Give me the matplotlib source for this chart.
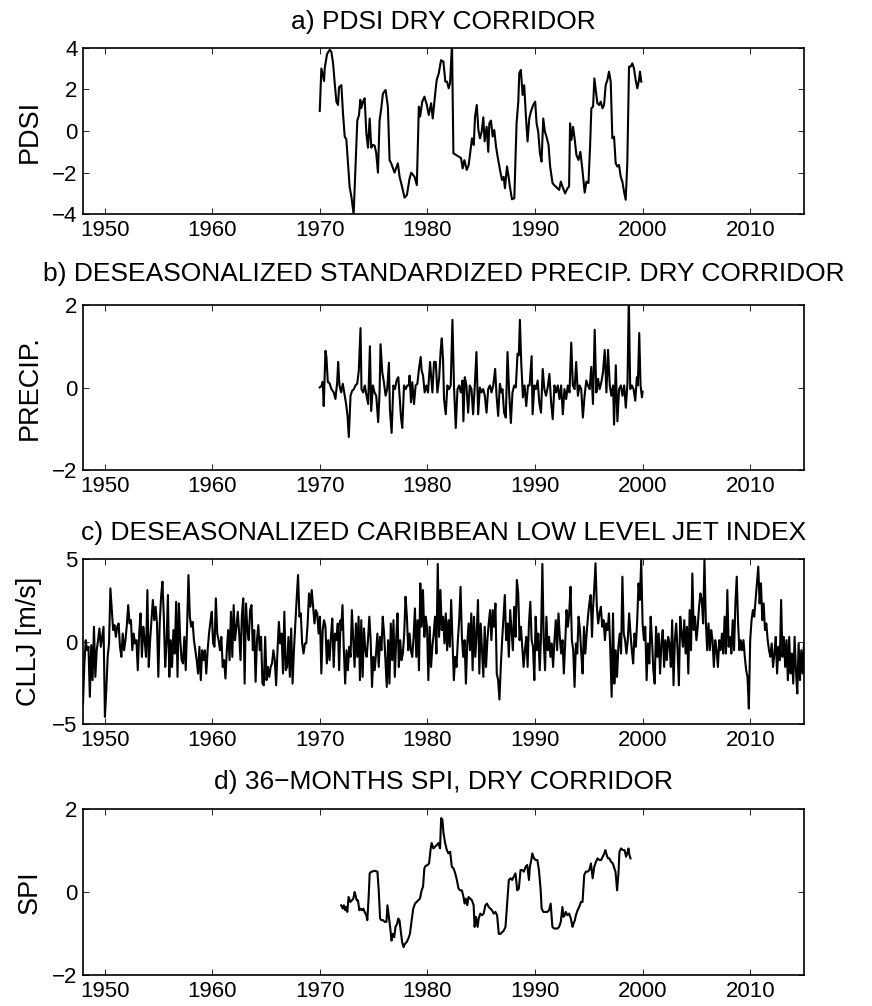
import numpy as np
import matplotlib
matplotlib.use("Agg")
import matplotlib.pyplot as plt

plt.rcParams['font.family'] = ['Liberation Sans', 'DejaVu Sans']

# a) PDSI, dry corridor
pdsi_year = [1970.00, 1970.15, 1970.40, 1970.46, 1970.68, 1970.93, 1971.08, 1971.24, 1971.39, 1971.55,
             1971.70, 1971.79, 1972.01, 1972.16, 1972.32, 1972.47, 1972.63, 1972.78, 1972.94, 1973.15,
             1973.34, 1973.49, 1973.65, 1973.77, 1973.86, 1974.02, 1974.17, 1974.33, 1974.48, 1974.64,
             1974.79, 1974.94, 1975.10, 1975.25, 1975.41, 1975.56, 1975.72, 1975.87, 1976.12, 1976.33,
             1976.49, 1976.64, 1976.95, 1977.26, 1977.42, 1977.66, 1977.88, 1978.10, 1978.34, 1978.50,
             1978.81, 1979.02, 1979.21, 1979.33, 1979.52, 1979.73, 1979.95, 1980.13, 1980.35, 1980.50,
             1980.75, 1980.87, 1981.06, 1981.27, 1981.49, 1981.67, 1981.83, 1981.98, 1982.11, 1982.29,
             1982.42, 1982.67, 1982.91, 1983.13, 1983.28, 1983.44, 1983.66, 1983.84, 1984.06, 1984.15,
             1984.31, 1984.43, 1984.59, 1984.74, 1984.89, 1985.05, 1985.20, 1985.32, 1985.51, 1985.66,
             1985.76, 1985.91, 1986.07, 1986.22, 1986.38, 1986.53, 1986.75, 1986.93, 1987.09, 1987.21,
             1987.40, 1987.55, 1987.67, 1987.86, 1988.08, 1988.29, 1988.45, 1988.54, 1988.69, 1988.85,
             1989.00, 1989.16, 1989.31, 1989.47, 1989.62, 1989.84, 1990.02, 1990.15, 1990.30, 1990.46,
             1990.61, 1990.77, 1990.92, 1991.07, 1991.26, 1991.41, 1991.63, 1991.79, 1991.94, 1992.09,
             1992.25, 1992.40, 1992.56, 1992.80, 1993.02, 1993.17, 1993.26, 1993.39, 1993.54, 1993.70,
             1993.85, 1994.04, 1994.22, 1994.41, 1994.62, 1994.78, 1994.97, 1995.12, 1995.24, 1995.40,
             1995.52, 1995.65, 1995.80, 1995.96, 1996.11, 1996.27, 1996.42, 1996.57, 1996.73, 1996.88,
             1997.04, 1997.19, 1997.35, 1997.50, 1997.66, 1997.81, 1997.97, 1998.12, 1998.27, 1998.43,
             1998.58, 1998.74, 1998.89, 1999.05, 1999.20, 1999.36, 1999.51, 1999.67, 1999.76, 1999.88]
pdsi_val = [0.96, 3.0, 2.4, 3.0, 3.7, 3.9, 3.8, 3.25, 2.3, 1.4,
            1.25, 2.1, 2.2, 0.85, -0.27, -0.4, -1.55, -2.7, -3.15, -4.0,
            -1.55, 0.5, 0.77, 1.5, 1.1, 1.4, 1.57, -0.1, -0.8, 0.6,
            -0.8, -0.67, -0.7, -1.07, -2.0, 0.5, 1.1, 1.8, 1.97, 1.17,
            -1.4, -1.55, -2.0, -1.55, -2.2, -2.7, -3.2, -3.07, -2.3, -2.0,
            -2.2, -2.6, 1.17, 0.7, 1.4, 1.65, 1.25, 0.77, 1.33, 0.6,
            1.9, 2.45, 2.77, 3.4, 3.33, 2.37, 2.37, 2.05, 2.3, 4.2,
            -1.07, -1.15, -1.23, -1.3, -1.8, -1.4, -1.87, -1.63, -0.75, -0.35,
            -0.67, 0.69, 1.25, 0.05, -0.35, -0.03, 0.66, -0.5, 0.2, -1.0,
            0.37, 0.5, -0.27, 0.05, -0.75, -1.23, -1.87, -2.35, -2.2, -2.75,
            -1.7, -2.2, -2.67, -3.28, -3.23, 0.37, 1.4, 2.77, 2.93, 1.73,
            2.2, 0.69, -0.5, 0.6, 0.93, 1.25, 1.41, 0.37, -0.03, -1.07,
            -1.47, 0.6, -0.03, -0.27, -0.67, -1.71, -2.5, -2.6, -2.67, -2.75,
            -2.83, -2.43, -2.67, -3.0, -2.75, -2.67, 0.37, -0.43, 0.2, -0.43,
            -1.15, -1.39, -1.0, -1.87, -2.96, -2.43, -2.5, -0.75, 1.09, 1.17,
            2.53, 1.97, 1.33, 1.25, 1.41, 1.09, 1.25, 2.2, 2.45, 2.85,
            2.37, -0.35, -0.27, -1.55, -1.71, -1.63, -2.2, -2.43, -2.9, -3.3,
            -1.55, 3.09, 3.09, 3.25, 3.0, 2.45, 2.05, 2.45, 2.85, 2.37]

# b) deseasonalized standardized precipitation
precip_year = [1970.00, 1970.16, 1970.28, 1970.37, 1970.53, 1970.62, 1970.75, 1970.90, 1971.09, 1971.30,
               1971.46, 1971.62, 1971.71, 1971.83, 1971.99, 1972.14, 1972.30, 1972.45, 1972.58, 1972.70,
               1972.86, 1973.01, 1973.17, 1973.32, 1973.48, 1973.63, 1973.79, 1973.88, 1974.04, 1974.19,
               1974.35, 1974.50, 1974.66, 1974.78, 1974.94, 1975.09, 1975.25, 1975.43, 1975.56, 1975.65,
               1975.81, 1975.96, 1976.12, 1976.27, 1976.43, 1976.52, 1976.68, 1976.84, 1976.99, 1977.14,
               1977.30, 1977.42, 1977.55, 1977.67, 1977.83, 1977.98, 1978.14, 1978.29, 1978.35, 1978.48,
               1978.60, 1978.76, 1978.91, 1979.07, 1979.22, 1979.38, 1979.47, 1979.60, 1979.75, 1979.91,
               1980.06, 1980.25, 1980.37, 1980.47, 1980.62, 1980.78, 1980.93, 1981.09, 1981.24, 1981.34,
               1981.46, 1981.55, 1981.71, 1981.86, 1982.02, 1982.17, 1982.33, 1982.48, 1982.64, 1982.80,
               1982.95, 1983.11, 1983.26, 1983.35, 1983.48, 1983.63, 1983.79, 1983.94, 1984.10, 1984.25,
               1984.41, 1984.56, 1984.72, 1984.88, 1985.03, 1985.19, 1985.34, 1985.50, 1985.65, 1985.81,
               1985.96, 1986.12, 1986.30, 1986.43, 1986.58, 1986.74, 1986.89,
               1986.98, 1987.13, 1987.29, 1987.45, 1987.60, 1987.76, 1987.91, 1988.07, 1988.22, 1988.38,
               1988.50, 1988.60, 1988.72, 1988.88, 1989.03, 1989.19, 1989.35, 1989.50, 1989.69, 1989.78,
               1989.94, 1990.09, 1990.25, 1990.40, 1990.56, 1990.72, 1990.87, 1991.03, 1991.18, 1991.34,
               1991.50, 1991.65, 1991.81, 1991.96, 1992.12, 1992.28, 1992.43, 1992.59, 1992.74, 1992.90,
               1993.05, 1993.21, 1993.37, 1993.52, 1993.68, 1993.83, 1993.99, 1994.14, 1994.30, 1994.45,
               1994.61, 1994.77, 1994.92, 1995.08, 1995.23, 1995.39, 1995.55, 1995.70, 1995.86, 1996.01,
               1996.17, 1996.32, 1996.48, 1996.64, 1996.79, 1996.95, 1997.10, 1997.26, 1997.35, 1997.51,
               1997.66, 1997.82, 1997.98, 1998.13, 1998.29, 1998.44, 1998.60, 1998.72, 1998.85, 1999.00,
               1999.16, 1999.32, 1999.47, 1999.56, 1999.69, 1999.81, 1999.94, 2000.00]
precip_val = [0.0, 0.04, 0.14, -0.45, 0.89, 0.74, 0.13, 0.11, -0.04, -0.12,
              -0.28, 0.13, 0.62, 0.05, -0.12, 0.09, -0.16, -0.4, -0.69, -1.2,
              -0.2, -0.08, -0.04, 0.05, 0.09, 0.41, 1.44, -0.04, -0.12, 0.05,
              -0.2, -0.4, 1.0, -0.57, 0.05, -0.12, -0.2, -0.84, -0.12, 1.05,
              0.37, 0.13, -0.2, -0.04, 0.6, -0.53, -1.1, 0.05, -0.04, 0.17,
              0.25, -0.2, -0.73, -0.98, 0.05, -0.04, 0.05, 0.05, 0.29, -0.36,
              0.13, -0.4, 0.05, 0.09, 0.45, 0.74, 0.41, 0.29, -0.12, 0.05,
              -0.12, 0.62, 0.21, -0.12, 0.62, 0.62, -0.12, 0.21, 0.91, 1.19,
              0.66, -0.28, -0.65, 0.05, -0.04, 0.05, 1.64, 0.0, -0.98, -0.04,
              0.05, -0.12, 0.17, -0.82, 0.25, 0.05, -0.61, 0.05, -0.04, -0.65,
              0.05, 0.86, -0.65, 0.0, -0.12, -0.04, -0.2, -0.61, -0.04, 0.05,
              -0.12, 0.05, 0.45, -0.2, -0.69, 0.09, -0.12,
              -0.04, -0.61, -0.73, 0.86, -0.12, -0.86, -0.12, 0.05, 0.0, 0.82,
              0.78, 1.64, 0.62, -0.24, 0.05, -0.45, 0.05, 0.05, 0.76, -0.65,
              0.05, -0.04, 0.17, -0.36, -0.61, 0.45, -0.04, -0.2, 0.0, 0.33,
              -0.36, -0.77, 0.05, -0.12, 0.05, -0.28, 0.05, -0.65, -0.04, -0.28,
              0.05, -0.12, 1.09, 0.05, -0.04, 0.62, -0.2, 0.05, -0.04, -0.73,
              -0.2, 0.17, 0.05, -0.04, 0.5, -0.4, 1.4, -0.12, 0.21, -0.04,
              0.13, 0.37, 0.91, -0.12, 0.91, 0.05, -0.2, 0.05, -0.9, 0.54,
              -0.82, -0.04, 0.05, -0.2, 0.05, -0.49, 0.13, 2.2, -0.04, 0.05,
              -0.04, -0.32, 0.25, 0.05, 1.32, 0.05, -0.24, -0.1]

# c) deseasonalized CLLJ index, read in three stretches (start, end year)
cllj_spans = [(1948.0, 1971.93), (1971.99, 1995.30), (1995.375, 2015.0)]
cllj_a = [-3.75, -1.32, 0.09, -0.52, -0.31, -3.34, -0.21, -2.33, 0.9, -2.13,
          -0.52, 0.09, 0.8, -0.31, 0.29, 0.9, -4.55, -2.94, -0.92, -0.11,
          3.22, 1.91, 0.7, 1.0, 0.29, 0.9, 1.1, -0.31, -0.92, 0.49,
          -0.52, 0.09, 1.0, 2.21, 1.1, 1.3, -0.52, 0.49, -0.11, 0.09,
          -1.73, 0.49, 1.71, -0.92, 0.9, 0.09, -0.92, 3.12, -1.53, 0.09,
          1.3, 2.52, 1.3, 2.11, 1.1, -2.13, 1.1, 2.72, 3.63, 1.51,
          -1.53, -0.11, 2.82, -2.13, 0.09, -1.53, 0.7, -0.72, 2.41, -2.13,
          2.31, 0.09, -1.12, -1.32, 0.29, -1.73, 0.9, 4.03, 1.51, 0.9,
          1.2, 0.09, -0.52, -1.12, -1.93, -0.31, -2.33, -0.52, -1.12, -0.52,
          -1.93, -0.52, 0.49, 1.2, 1.81, -0.11, -0.31, 2.62, 0.49, 0.09,
          -0.52, 0.29, -1.53, -1.12, -2.23, -0.52, 0.7, -1.12, 1.81, -0.92,
          2.21, 0.09, 0.9, 1.81, 0.49, -1.12, 1.61, 2.62, -2.54, 2.31,
          0.7, 0.09, 1.91, 2.21, -0.52, 0.7, -2.43, 0.09, 1.0, -0.52,
          0.29, -2.54, -2.64, 0.29, -2.33, -1.53, -2.13, -1.53, -1.32, -0.52,
          -1.12, -2.64, -0.52, 1.2, -0.11, 0.49, -1.93, 1.81, -1.73, -1.53,
          0.29, -2.13, 0.8, -2.54, -0.52, 1.1, 2.62, 4.03, 1.51, 1.71,
          -0.11, -0.72, -0.11, -0.11, 1.1, 2.92, 2.11, 3.12, 2.11, 1.1,
          1.91, 1.71, 0.49, 1.51, -1.93, 0.7, 1.3, 0.9, -1.32, 0.09,
          -1.12, 0.29, 1.4, -1.53, 0.49, 0.09, 1.1, -1.73, 1.3]
cllj_b = [0.7, 2.21, -0.52, -2.54, -0.52, -1.73, -0.31, -0.92, 1.91, 0.09,
          -1.53, 1.1, -0.92, 1.51, -2.33, 1.3, -2.13, 0.8, -0.52, -0.92,
          0.09, 1.51, 0.09, -2.74, -0.92, -1.73, -0.72, 0.49, -1.53, 0.29,
          -0.52, 1.51, 0.49, -1.12, -2.74, 0.09, -2.54, 1.1, -1.12, 1.3,
          -2.13, 0.09, 1.71, -1.53, 0.09, -1.12, -0.72, 0.49, 2.72, 1.51,
          -0.52, 0.49, -0.52, -0.92, 0.29, 2.01, -0.92, 1.3, -1.73, 3.53,
          0.9, 3.12, 0.29, 1.51, 0.9, -2.33, 0.9, -1.53, -0.31, 0.49,
          1.51, -0.72, 4.7, 0.29, 3.12, 0.7, 1.51, -0.11, 1.71, -0.52,
          1.3, -0.31, 2.52, 0.09, -2.33, -0.92, -1.53, 0.09, 1.3, 3.32,
          0.29, -0.92, 0.09, -2.54, -0.11, 1.1, -0.52, 1.71, -1.73, 1.51,
          -0.92, 0.49, 2.52, -1.93, 1.1, -0.52, -2.13, 0.9, -1.53, 0.09,
          1.1, 1.91, 0.09, 1.91, 0.9, 2.31, -1.93, -2.33, -3.5, -1.53,
          0.09, 1.51, 2.82, 0.09, 1.1, -0.92, 1.91, 0.7, -0.52, 2.11,
          0.29, 3.73, 2.92, 0.09, 0.9, -0.31, -1.53, -0.52, 0.29, -1.53,
          1.1, 2.41, 0.09, -0.31, -2.33, 1.51, -0.52, 0.49, -1.73, 0.29,
          4.7, 0.09, -1.73, 1.51, -0.52, 0.29, -0.92, -0.11, -1.53, 0.09,
          1.3, -0.52, 1.71, 0.29, -0.72, 0.09, -1.93, -0.11, 1.91, 0.9,
          1.71, 3.32, 0.09, -0.52, -2.74, -0.11, -0.72, 1.51, 0.7, -0.72,
          -1.93, 0.9, -0.72, 0.49, 1.51, 2.31, 2.82, 0.29]
cllj_c = [1.81, 3.12, 4.74, 2.11, 1.1, 1.71, 2.11, 0.9, 1.3, 0.09,
          1.1, 0.7, 1.71, -0.52, -3.34, 1.71, -2.54, -0.52, -2.13, -0.31,
          0.49, -0.72, 3.93, 0.49, 0.09, -0.72, 0.09, 1.71, 0.49, -0.52,
          -1.32, 0.49, -0.31, 1.3, 3.53, 2.52, 4.94, 1.1, 0.09, 0.9,
          -2.33, -0.11, -1.32, 1.51, 0.09, -1.73, -2.54, 0.9, -0.92, 0.49,
          -1.93, -0.11, 0.7, -1.53, 0.09, -1.12, 0.29, -0.11, -1.53, 1.3,
          -2.64, 0.09, 1.1, -0.52, -2.64, 1.51, 0.49, -0.31, 1.3, -0.72,
          0.9, -1.93, 1.91, -0.52, 4.13, 0.7, 1.51, 0.09, 0.9, 2.11,
          2.92, 2.52, 1.1, 4.94, 1.3, -0.52, 1.1, -0.52, 0.7, 0.09,
          -1.53, 0.09, -0.52, -1.53, 0.09, -0.52, 0.49, -0.72, 1.51, -0.72,
          3.12, -0.31, 0.29, -0.72, 1.3, -0.52, 2.31, 3.93, 1.1, -0.52,
          0.09, -0.52, 0.09, -0.92, -1.73, -2.13, -4.05, 0.09, 1.3, 1.91,
          1.51, 2.52, 3.53, 4.54, 2.31, 3.53, 1.3, 2.31, 0.7, 1.1,
          0.09, -0.52, -0.92, -0.11, -1.53, -0.72, 0.29, -1.93, -0.31, -1.12,
          2.52, -0.92, 0.29, -1.53, 0.09, -2.33, 0.29, -1.93, -0.72, -2.54,
          0.29, -1.73, -3.14, -0.11, -2.33, -0.52, -1.93, -0.11]

# d) 36-month SPI, dry corridor
spi_year = [1971.99, 1972.15, 1972.24, 1972.37, 1972.46, 1972.56, 1972.68, 1972.84, 1972.99, 1973.12,
            1973.24, 1973.33, 1973.43, 1973.55, 1973.68, 1973.80, 1973.93, 1974.05, 1974.17, 1974.33,
            1974.42, 1974.55, 1974.64, 1974.80, 1975.11, 1975.36, 1975.48, 1975.61, 1975.73, 1975.89,
            1976.04, 1976.20, 1976.29, 1976.42, 1976.54, 1976.67, 1976.79, 1976.92, 1977.04, 1977.20,
            1977.29, 1977.41, 1977.54, 1977.66, 1977.79, 1977.91, 1978.07, 1978.22, 1978.38, 1978.54,
            1978.69, 1978.85, 1979.00, 1979.16, 1979.31, 1979.47, 1979.60, 1979.72, 1979.84, 1980.03,
            1980.16, 1980.31, 1980.40, 1980.56, 1980.72, 1980.87, 1981.03, 1981.18, 1981.28, 1981.40,
            1981.50, 1981.65, 1981.81, 1981.96, 1982.12, 1982.27, 1982.43, 1982.59, 1982.74, 1982.90,
            1983.05, 1983.21, 1983.36, 1983.46, 1983.58, 1983.71, 1983.83, 1983.99, 1984.14, 1984.30,
            1984.39, 1984.52, 1984.67, 1984.77, 1984.92, 1985.08, 1985.23, 1985.39, 1985.54, 1985.70,
            1985.86, 1986.01, 1986.17, 1986.32, 1986.48, 1986.64, 1986.79, 1986.95, 1987.10, 1987.26,
            1987.41, 1987.57, 1987.73, 1987.88, 1988.04, 1988.19, 1988.35, 1988.50, 1988.66, 1988.82,
            1988.97, 1989.13, 1989.28, 1989.44, 1989.53, 1989.66, 1989.75, 1989.91, 1990.06, 1990.22,
            1990.37, 1990.53, 1990.62, 1990.78, 1991.00, 1991.15, 1991.31, 1991.46, 1991.62, 1991.77,
            1991.93, 1992.09, 1992.24, 1992.40, 1992.55, 1992.65, 1992.77, 1992.86, 1993.02, 1993.18,
            1993.33, 1993.49, 1993.58, 1993.71, 1993.80, 1993.96, 1994.11, 1994.27, 1994.42, 1994.58,
            1994.73, 1994.89, 1995.05, 1995.20, 1995.36, 1995.51, 1995.67, 1995.82, 1995.98, 1996.14,
            1996.29, 1996.45, 1996.54, 1996.67, 1996.79, 1996.91, 1997.07, 1997.23, 1997.38, 1997.48,
            1997.54, 1997.63, 1997.76, 1997.85, 1998.00, 1998.16, 1998.32, 1998.47, 1998.57, 1998.69,
            1998.78, 1998.88]
spi_val = [-0.32, -0.40, -0.32, -0.44, -0.36, -0.48, -0.12, -0.24, -0.20, -0.16,
           0.0, -0.08, -0.20, -0.20, -0.44, -0.40, -0.44, -0.40, -0.48, -0.56,
           -0.68, -0.10, 0.45, 0.49, 0.51, 0.49, 0.04, -0.64, -0.68, -0.68,
           -0.72, -0.72, -0.32, -0.60, -0.84, -1.17, -1.01, -1.09, -0.84, -0.76,
           -0.64, -0.68, -0.97, -1.21, -1.33, -1.25, -1.21, -1.13, -1.01, -0.68,
           -0.40, -0.28, -0.24, -0.20, -0.16, 0.04, 0.13, 0.57, 0.63, 0.65,
           0.69, 1.05, 1.18, 1.05, 1.09, 1.13, 1.18, 1.05, 1.78, 1.74,
           1.42, 1.18, 1.01, 0.93, 0.97, 0.61, 0.57, 0.45, 0.29, 0.08,
           0.04, 0.04, -0.12, -0.28, -0.16, -0.32, -0.12, -0.16, -0.20, -0.32,
           -0.84, -0.60, -0.84, -0.64, -0.52, -0.56, -0.52, -0.32, -0.28, -0.36,
           -0.40, -0.44, -0.52, -0.48, -0.56, -1.01, -1.01, -0.97, -0.93, -0.84,
           -0.28, 0.29, 0.33, 0.29, 0.37, 0.45, 0.04, 0.08, 0.53, 0.53,
           0.49, 0.61, 0.65, 0.29, 0.61, 0.77, 0.93, 0.81, 0.77, 0.77,
           0.53, 0.04, -0.40, -0.48, -0.48, -0.48, -0.44, -0.28, -0.84, -0.88,
           -0.88, -0.88, -0.84, -0.72, -0.36, -0.60, -0.56, -0.48, -0.56, -0.52,
           -0.64, -0.84, -0.76, -0.68, -0.56, -0.44, -0.36, -0.24, -0.24, 0.41,
           0.49, 0.49, 0.53, 0.69, 0.33, 0.61, 0.73, 0.81, 0.77, 0.77,
           0.85, 0.93, 1.01, 0.89, 0.81, 0.81, 0.73, 0.69, 0.57, 0.49,
           0.33, 0.04, 0.45, 0.97, 1.05, 1.01, 1.01, 0.85, 0.93, 1.05,
           0.89, 0.81]

titles = ["a) PDSI DRY CORRIDOR",
          "b) DESEASONALIZED STANDARDIZED PRECIP. DRY CORRIDOR",
          "c) DESEASONALIZED CARIBBEAN LOW LEVEL JET INDEX",
          "d) 36\u2212MONTHS SPI, DRY CORRIDOR"]
ylabels = ["PDSI", "PRECIP.", "CLLJ [m/s]", "SPI"]
yticks = [[-4, -2, 0, 2, 4], [-2, 0, 2], [-5, 0, 5], [-2, 0, 2]]
xticks = [1950, 1960, 1970, 1980, 1990, 2000, 2010]

cllj_year = np.concatenate([np.linspace(s, e, len(v)) for (s, e), v in
                            zip(cllj_spans, [cllj_a, cllj_b, cllj_c])])
cllj_val = np.concatenate([cllj_a, cllj_b, cllj_c])

series = [(pdsi_year, pdsi_val), (precip_year, precip_val),
          (cllj_year, cllj_val), (spi_year, spi_val)]

W, H = 872, 1006
fig = plt.figure(figsize=(W / 100, H / 100), dpi=100)

# axes boxes in pixels: top, bottom
boxes = [(47.7, 214.3), (305, 470), (559, 724.3), (809, 975)]
title_pads = [13.2, 17.3, 13.7, 14.2]
left, right = 83, 804

for i, ((yr, val), (top, bot)) in enumerate(zip(series, boxes)):
    ax = fig.add_axes([left / W, 1 - bot / H, (right - left) / W, (bot - top) / H])
    ax.plot(yr, val, color='black', lw=1.5)
    ax.set_xlim(1948, 2015)
    ax.set_ylim(yticks[i][0], yticks[i][-1])
    ax.set_xticks(xticks)
    ax.set_yticks(yticks[i])
    ax.tick_params(direction='in', top=True, right=True, length=4.5, width=0.6,
                   labelsize=16, pad=4)
    for s in ax.spines.values():
        s.set_linewidth(1.2)
    ax.set_title(titles[i], fontsize=19, pad=title_pads[i])
    ax.set_ylabel(ylabels[i], fontsize=19.5, labelpad=7)

fig.savefig("out.png", dpi=100)
